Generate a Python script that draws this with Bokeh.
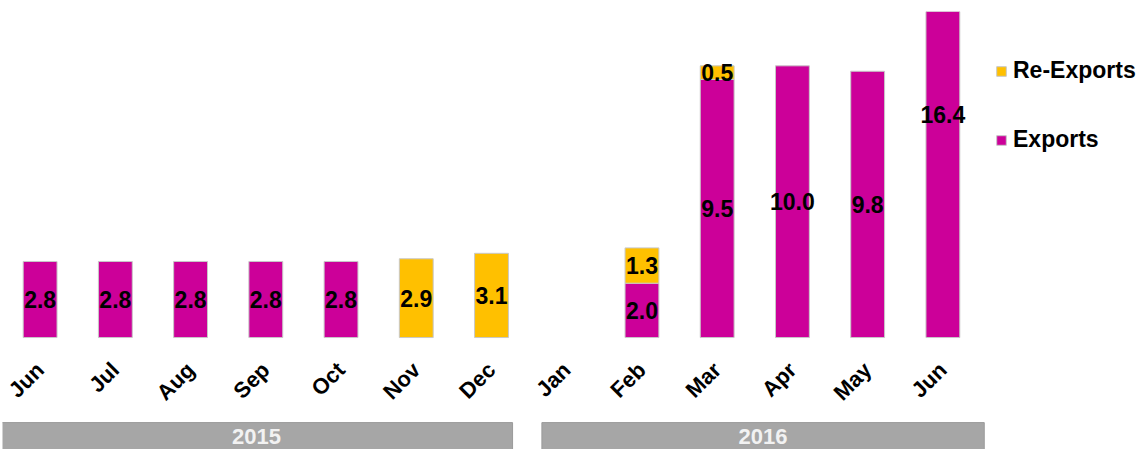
import math
from bokeh.plotting import figure
from bokeh.models import ColumnDataSource, Legend, LegendItem, Range1d
from bokeh.core.properties import value
from bokeh.embed import file_html
from bokeh.resources import INLINE

# ---- data ----
months = ["Jun", "Jul", "Aug", "Sep", "Oct", "Nov", "Dec", "Jan", "Feb", "Mar", "Apr", "May", "Jun"]
exports = [2.8, 2.8, 2.8, 2.8, 2.8, 0, 0, 0, 2.0, 9.5, 10.0, 9.8, 16.4]
re_exports = [0, 0, 0, 0, 0, 2.9, 3.1, 0, 1.3, 0.5, 0, 0, 0]
years = ["2015", "2016"]
year_first = [0, 7]   # index of first month in each year
year_last = [6, 12]   # index of last month in each year

EXP_COLOR = "#CC0099"
REX_COLOR = "#FFC000"
FONT = "Liberation Sans"

# frame spans the full width; 13 month slots occupy the left 978 px
UNIT = 978 / 13.0
x_end = -0.5 + 1138 / UNIT

p = figure(width=1140, height=449,
           x_range=Range1d(-0.5, x_end), y_range=Range1d(-4.12, 12),
           output_backend="svg", toolbar_location=None,
           x_axis_location=None, y_axis_location=None,
           min_border_left=2, min_border_right=0,
           min_border_top=11, min_border_bottom=0)
p.grid.visible = False
p.outline_line_color = None
p.background_fill_color = "white"

idx = list(range(len(months)))

ex_x = [i for i in idx if exports[i] > 0]
ex_src = ColumnDataSource(dict(
    x=ex_x,
    bottom=[0 for i in ex_x],
    top=[exports[i] for i in ex_x],
    mid=[exports[i] / 2 for i in ex_x],
    lab=["%.1f" % exports[i] for i in ex_x],
))
rx_x = [i for i in idx if re_exports[i] > 0]
rx_src = ColumnDataSource(dict(
    x=rx_x,
    bottom=[exports[i] for i in rx_x],
    top=[exports[i] + re_exports[i] for i in rx_x],
    mid=[exports[i] + re_exports[i] / 2 for i in rx_x],
    lab=["%.1f" % re_exports[i] for i in rx_x],
))

r_ex = p.vbar(x="x", bottom="bottom", top="top", width=0.45, source=ex_src,
              fill_color=EXP_COLOR, line_color="#C8C8C8", line_width=1)
r_rx = p.vbar(x="x", bottom="bottom", top="top", width=0.45, source=rx_src,
              fill_color=REX_COLOR, line_color="#C8C8C8", line_width=1)

for src in (ex_src, rx_src):
    p.text(x="x", y="mid", text="lab", source=src,
           text_align="center", text_baseline="middle",
           text_font=value(FONT), text_font_style="bold",
           text_font_size="23px", text_color="black")

# month labels (rotated)
p.text(x=idx, y=[-1.05] * len(idx), text=months, angle=math.pi / 4,
       text_align="right", text_baseline="middle",
       text_font=value(FONT), text_font_style="bold",
       text_font_size="22px", text_color="black")

# year bands
left_pad = [0.53, 0.33]
right_pad = [0.28, 0.55]
bl = [year_first[k] - left_pad[k] for k in range(len(years))]
br = [year_last[k] + right_pad[k] for k in range(len(years))]
p.quad(left=bl, right=br, bottom=[-4.2] * 2, top=[-3.13] * 2,
       fill_color="#A6A6A6", line_color="#9A9A9A", line_width=1)
p.text(x=[(bl[k] + br[k]) / 2 for k in range(len(years))], y=[-3.65] * 2,
       text=years, text_align="center", text_baseline="middle",
       text_font=value(FONT), text_font_style="bold",
       text_font_size="22px", text_color="#F2F2F2")

legend = Legend(items=[LegendItem(label="Re-Exports", renderers=[r_rx]),
                       LegendItem(label="Exports", renderers=[r_ex])],
                location=(993, 296), orientation="vertical",
                label_text_font=FONT, label_text_font_style="bold",
                label_text_font_size="23px", label_text_color="black",
                glyph_width=12, glyph_height=12, label_standoff=6,
                label_height=26, spacing=42, padding=0, margin=0,
                border_line_color=None, background_fill_alpha=0)
p.add_layout(legend)

open("out.html", "w").write(file_html(p, INLINE))
